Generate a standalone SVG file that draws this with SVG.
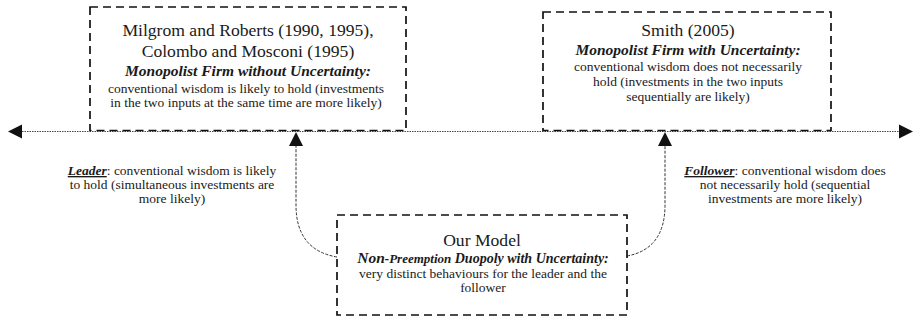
<svg xmlns="http://www.w3.org/2000/svg" width="917" height="321" viewBox="0 0 917 321">
<style>
.box{fill:#fff;stroke:#111;stroke-width:1.7;stroke-dasharray:8 5}
.axis{fill:none;stroke:#444;stroke-width:1;stroke-dasharray:1.5 1}
.con{fill:none;stroke:#333;stroke-width:1;stroke-dasharray:3 1.5}
text{font-family:"Liberation Serif","Times New Roman",serif;fill:#1a1a1a;text-anchor:middle}
.t{font-size:17.6px}
.h{font-size:15.5px;font-weight:bold;font-style:italic}
.b{font-size:13.5px}
.u{font-weight:bold;font-style:italic;text-decoration:underline}
</style>
<g id="connectors">
<line class="axis" x1="22" y1="131.5" x2="899" y2="131.5"/>
<path d="M0,0 L14,7 L0,14 Z" transform="translate(22,138.5) rotate(180)" fill="#111"/>
<path d="M0,0 L14,7 L0,14 Z" transform="translate(899,124.5)" fill="#111"/>
<path class="con" d="M337,257 Q296,250 296,205 L296,146"/>
<path d="M289,146 L296,132 L303,146 Z" fill="#111"/>
<path class="con" d="M627,256 Q665,249 665,205 L665,146"/>
<path d="M658,146 L665,132 L672,146 Z" fill="#111"/>
</g>
<g id="node-milgrom">
<rect class="box" x="90" y="7" width="316" height="123.5"/>
<text class="t" x="248" y="36">Milgrom and Roberts (1990, 1995),</text>
<text class="t" x="248" y="57">Colombo and Mosconi (1995)</text>
<text class="h" x="248" y="76">Monopolist Firm without Uncertainty:</text>
<text class="b" x="246" y="93">conventional wisdom is likely to hold (investments</text>
<text class="b" x="246" y="107">in the two inputs at the same time are more likely)</text>
</g>
<g id="node-smith">
<rect class="box" x="543" y="12" width="288" height="118.5"/>
<text class="t" x="688" y="36">Smith (2005)</text>
<text class="h" x="688" y="55">Monopolist Firm with Uncertainty:</text>
<text class="b" x="688" y="71">conventional wisdom does not necessarily</text>
<text class="b" x="688" y="86">hold (investments in the two inputs</text>
<text class="b" x="688" y="101">sequentially are likely)</text>
</g>
<g id="node-ourmodel">
<rect class="box" x="337" y="215" width="290" height="100"/>
<text class="t" x="482" y="246">Our Model</text>
<text class="h" x="483" y="263" font-size="15px">Non<tspan font-size="13px">-Preemption</tspan><tspan font-size="14px"> Duopoly with Uncertainty:</tspan></text>
<text class="b" x="483" y="277.5">very distinct behaviours for the leader and the</text>
<text class="b" x="483" y="291.5">follower</text>
</g>
<g id="label-leader">
<text class="b" x="172" y="175"><tspan class="u">Leader</tspan>: conventional wisdom is likely</text>
<text class="b" x="172" y="189">to hold (simultaneous investments are</text>
<text class="b" x="172" y="202.5">more likely)</text>
</g>
<g id="label-follower">
<text class="b" x="785" y="175"><tspan class="u">Follower</tspan>: conventional wisdom does</text>
<text class="b" x="785" y="189">not necessarily hold (sequential</text>
<text class="b" x="785" y="202.5">investments are more likely)</text>
</g>
</svg>
